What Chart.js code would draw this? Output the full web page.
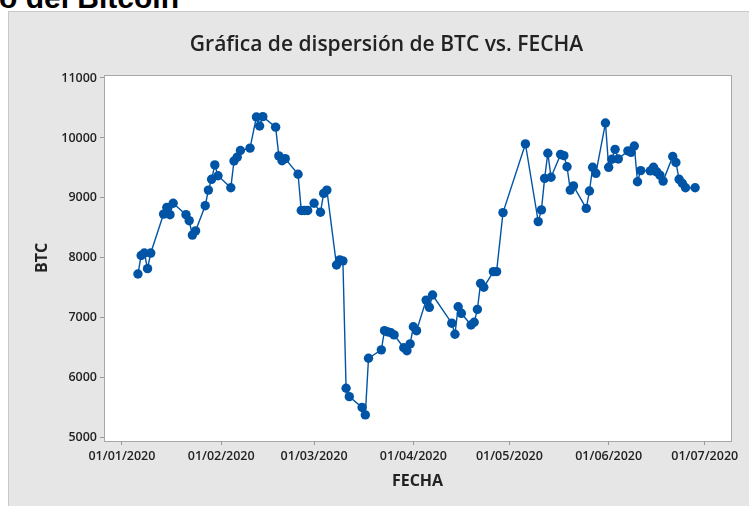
<!DOCTYPE html>
<html>
<head>
<meta charset="utf-8">
<script src="https://cdn.jsdelivr.net/npm/chart.js@4.4.0/dist/chart.umd.min.js"></script>
<style>
  html, body { margin: 0; padding: 0; background: #fff; }
  body { width: 749px; height: 506px; position: relative; overflow: hidden; }
  #heading { position: absolute; left: -1px; top: -17px; font: bold 30px "Liberation Sans", Arial, sans-serif; line-height: 29px; color: #000; white-space: nowrap; }
  #panel { position: absolute; left: 8px; top: 11px; width: 760px; height: 520px; background: #e6e6e6; border: 1px solid #c8c8c8; box-sizing: border-box; }
  #chart { position: absolute; left: 0; top: 0; }
</style>
</head>
<body>
<div id="heading">o del Bitcoin</div>
<div id="panel"></div>
<canvas id="chart" width="749" height="506"></canvas>
<script>
// fechas (dd/mm/aaaa) y precio de cierre del BTC
const fechas = [
    '06/01/2020', '07/01/2020', '08/01/2020', '09/01/2020', '10/01/2020',
    '14/01/2020', '15/01/2020', '16/01/2020', '17/01/2020', '21/01/2020',
    '22/01/2020', '23/01/2020', '24/01/2020', '27/01/2020', '28/01/2020',
    '29/01/2020', '30/01/2020', '31/01/2020', '04/02/2020', '05/02/2020',
    '06/02/2020', '07/02/2020', '10/02/2020', '12/02/2020', '13/02/2020',
    '14/02/2020', '18/02/2020', '19/02/2020', '20/02/2020', '21/02/2020',
    '25/02/2020', '26/02/2020', '27/02/2020', '28/02/2020', '01/03/2020',
    '03/03/2020', '04/03/2020', '05/03/2020', '08/03/2020', '09/03/2020',
    '10/03/2020', '11/03/2020', '12/03/2020', '16/03/2020', '17/03/2020',
    '18/03/2020', '22/03/2020', '23/03/2020', '24/03/2020', '25/03/2020',
    '26/03/2020', '29/03/2020', '30/03/2020', '31/03/2020', '01/04/2020',
    '02/04/2020', '05/04/2020', '06/04/2020', '07/04/2020', '13/04/2020',
    '14/04/2020', '15/04/2020', '16/04/2020', '19/04/2020', '20/04/2020',
    '21/04/2020', '22/04/2020', '23/04/2020', '26/04/2020', '27/04/2020',
    '29/04/2020', '06/05/2020', '10/05/2020', '11/05/2020', '12/05/2020',
    '13/05/2020', '14/05/2020', '17/05/2020', '18/05/2020', '19/05/2020',
    '20/05/2020', '21/05/2020', '25/05/2020', '26/05/2020', '27/05/2020',
    '28/05/2020', '31/05/2020', '01/06/2020', '02/06/2020', '03/06/2020',
    '04/06/2020', '07/06/2020', '08/06/2020', '09/06/2020', '10/06/2020',
    '11/06/2020', '14/06/2020', '15/06/2020', '16/06/2020', '17/06/2020',
    '18/06/2020', '21/06/2020', '22/06/2020', '23/06/2020', '24/06/2020',
    '25/06/2020', '28/06/2020'
];
const btc = [
    7730, 8040, 8080, 7820, 8080,
    8730, 8840, 8720, 8910, 8720,
    8620, 8380, 8450, 8870, 9130,
    9310, 9550, 9370, 9170, 9615,
    9680, 9790, 9830, 10350, 10200,
    10355, 10180, 9700, 9620, 9655,
    9395, 8790, 8790, 8790, 8910,
    8760, 9075, 9130, 7880, 7965,
    7950, 5825, 5685, 5505, 5380,
    6325, 6465, 6785, 6765, 6750,
    6715, 6500, 6450, 6565, 6850,
    6785, 7295, 7175, 7380, 6910,
    6725, 7185, 7075, 6880, 6925,
    7140, 7575, 7510, 7770, 7770,
    8755, 9900, 8605, 8800, 9325,
    9745, 9345, 9725, 9705, 9520,
    9130, 9200, 8825, 9115, 9510,
    9410, 10250, 9510, 9645, 9810,
    9650, 9785, 9760, 9865, 9270,
    9455, 9450, 9510, 9435, 9380,
    9280, 9690, 9590, 9310, 9245,
    9170, 9170
];
const xTickLabels = ['01/01/2020', '01/02/2020', '01/03/2020', '01/04/2020', '01/05/2020', '01/06/2020', '01/07/2020'];
const yTicks = [5000, 6000, 7000, 8000, 9000, 10000, 11000];

const azul = 'rgb(0, 84, 166)';
const DAY = 86400000;
const origen = Date.UTC(2020, 0, 1);

// dd/mm/aaaa -> dias desde el 01/01/2020
const toDay = s => {
    const [d, m, y] = s.split('/').map(Number);
    return (Date.UTC(y, m - 1, d) - origen) / DAY;
};
const fromDay = v => {
    const dt = new Date(origen + Math.round(v) * DAY);
    const pad = n => String(n).padStart(2, '0');
    return pad(dt.getUTCDate()) + '/' + pad(dt.getUTCMonth() + 1) + '/' + dt.getUTCFullYear();
};

const tickFont = { family: '"Open Sans", sans-serif', size: 12.5, weight: '600' };
const titleFont = { family: '"Open Sans", sans-serif', size: 16, weight: '700' };

// fondo blanco y marco del area de datos
const plotBox = {
    id: 'plotBox',
    beforeDraw(chart) {
        const { ctx, chartArea: a } = chart;
        ctx.save();
        ctx.fillStyle = '#fff';
        ctx.fillRect(a.left, a.top, a.right - a.left, a.bottom - a.top);
        ctx.strokeStyle = '#a8a8a8';
        ctx.lineWidth = 1;
        ctx.strokeRect(a.left + 0.5, a.top + 0.5, a.right - a.left, a.bottom - a.top);
        ctx.restore();
    }
};

new Chart(document.getElementById('chart'), {
    type: 'scatter',
    data: {
        datasets: [{
            data: fechas.map((f, i) => ({ x: toDay(f), y: btc[i] })),
            showLine: true,
            borderColor: azul,
            borderWidth: 1.4,
            backgroundColor: azul,
            pointBackgroundColor: azul,
            pointBorderWidth: 0,
            pointRadius: 4.7,
            pointHoverRadius: 4.7
        }]
    },
    options: {
        responsive: false,
        animation: false,
        devicePixelRatio: 1,
        layout: { padding: { left: 42, right: 18, top: 0, bottom: 0 } },
        plugins: {
            legend: { display: false },
            tooltip: { enabled: false },
            title: {
                display: true,
                text: 'Gráfica de dispersión de BTC vs. FECHA',
                color: '#222',
                font: { family: '"Open Sans", sans-serif', size: 21, weight: '600', lineHeight: 1.2 },
                padding: { top: 32, bottom: 17.8 }
            }
        },
        scales: {
            x: {
                type: 'linear',
                min: -5.6,
                max: 190.2,
                afterFit: s => { s.height = 65; },
                afterBuildTicks: s => { s.ticks = xTickLabels.map(t => ({ value: toDay(t) })); },
                ticks: { callback: v => fromDay(v), font: tickFont, color: '#222', padding: 4, maxRotation: 0, autoSkip: false },
                grid: { display: true, drawOnChartArea: false, drawTicks: true, tickLength: 4, color: '#999' },
                border: { display: false },
                title: { display: true, text: 'FECHA', font: titleFont, color: '#222', padding: { top: 0, bottom: 15 } }
            },
            y: {
                min: 4945,
                max: 11050,
                afterFit: s => { s.width = 62; },
                afterBuildTicks: s => { s.ticks = yTicks.map(v => ({ value: v })); },
                ticks: { callback: v => String(v), font: tickFont, color: '#222', padding: 3 },
                grid: { display: true, drawOnChartArea: false, drawTicks: true, tickLength: 4, color: '#999' },
                border: { display: false },
                title: { display: true, text: 'BTC', font: titleFont, color: '#222', padding: { top: -9, bottom: 0 } }
            }
        }
    },
    plugins: [plotBox]
});
</script>
</body>
</html>
